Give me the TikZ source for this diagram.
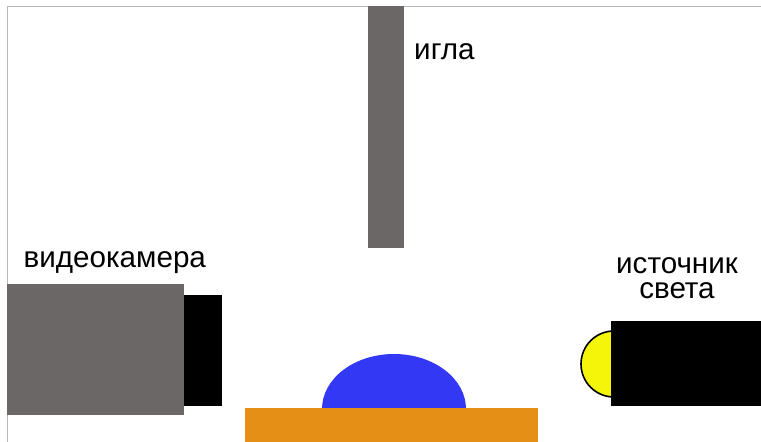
\documentclass[tikz,border=0pt]{standalone}
\usepackage{fontspec}
\setmainfont{Liberation Sans}
\definecolor{metalgray}{RGB}{107,103,103}
\definecolor{stageorange}{RGB}{230,143,22}
\definecolor{dropblue}{RGB}{51,56,245}
\definecolor{lampyellow}{RGB}{245,245,10}
\definecolor{framegray}{RGB}{185,185,185}
\begin{document}
\begin{tikzpicture}[x=1pt,y=-1pt,
  label/.style={font=\fontsize{29.6}{25}\selectfont, inner sep=0pt, text=black}]
\useasboundingbox (0,0) rectangle (761,442);
% frame
\draw[framegray, line width=1pt] (7,442) -- (7,6) -- (761,6);
% needle
\fill[metalgray] (368,6) rectangle (404,248);
\node[label, anchor=base west] (needle) at (414,59) {игла};
% video camera
\fill[metalgray] (7,284) rectangle (184,415);
\fill[black] (184,295) rectangle (222,406);
\node[label, anchor=base west] (camera) at (23.5,267) {видеокамера};
% drop on the stage
\fill[dropblue] (322,409) arc[start angle=180, end angle=0, x radius=72, y radius=-55] -- cycle;
\fill[stageorange] (245,408) rectangle (538,443);
% light source
\filldraw[fill=lampyellow, draw=black, line width=1.6pt] (614,364) circle[radius=33];
\fill[black] (611,321) rectangle (762,406);
\node[label, align=center, anchor=base] (light) at (677,298) {источник\\света};
\end{tikzpicture}
\end{document}
